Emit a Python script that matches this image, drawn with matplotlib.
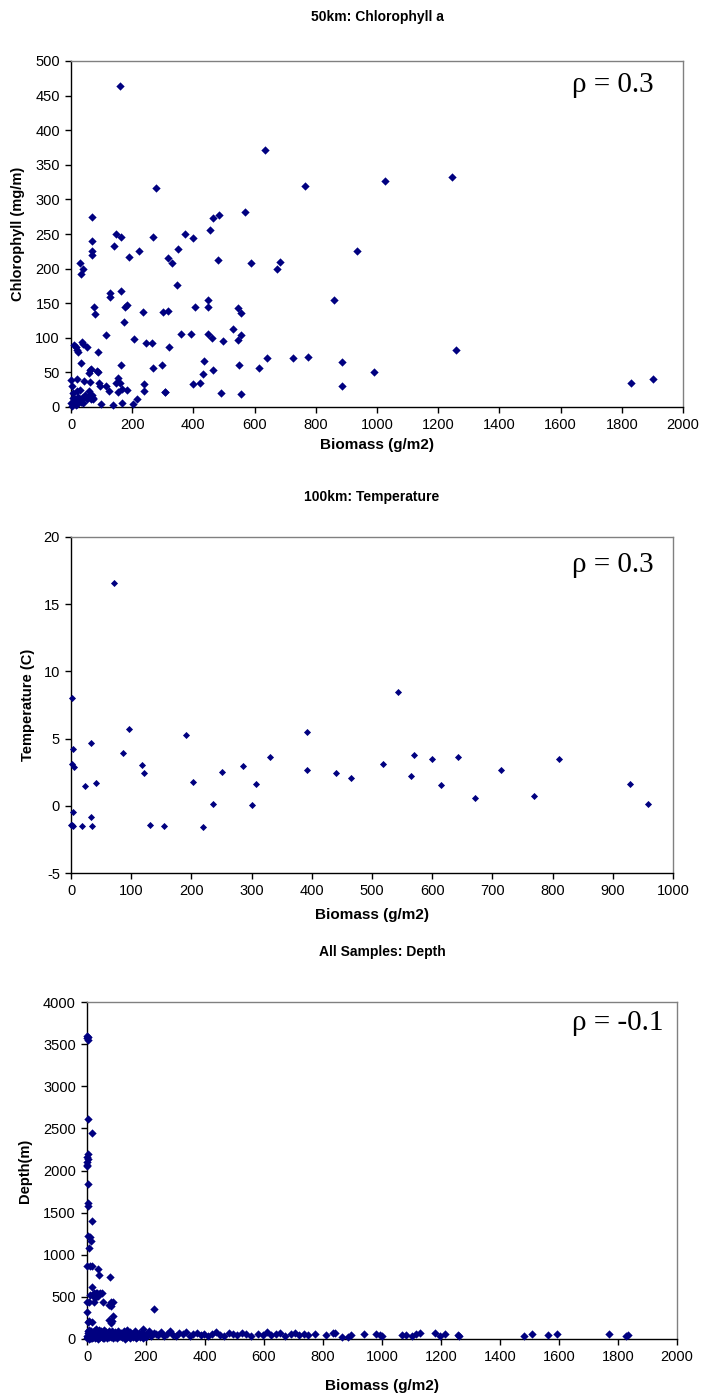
import matplotlib
matplotlib.use("Agg")
import matplotlib.pyplot as plt

plt.rcParams['font.family'] = ['Liberation Sans', 'DejaVu Sans']
plt.rcParams['axes.unicode_minus'] = False

# 50km: chlorophyll a vs biomass  (biomass, chlorophyll)
chl_pts = [(160, 464), (633, 371), (277, 317), (765, 320), (1027, 327), (70, 275), (484, 277),
           (465, 273), (570, 282), (455, 256), (146, 250), (163, 246), (374, 250), (398, 244),
           (267, 245), (70, 240), (140, 233), (70, 225), (67, 220), (221, 225), (349, 229),
           (188, 217), (479, 213), (936, 226), (318, 215), (331, 208), (587, 208), (674, 200),
           (683, 210), (28, 208), (39, 200), (33, 192), (345, 177), (127, 165), (127, 159),
           (165, 168), (76, 144), (78, 135), (177, 144), (182, 148), (174, 123), (236, 138),
           (302, 137), (317, 139), (404, 144), (449, 155), (449, 145), (545, 143), (556, 136),
           (861, 155), (115, 104), (205, 98), (246, 92), (265, 93), (358, 106), (391, 105),
           (447, 106), (462, 99), (498, 96), (530, 113), (547, 97), (557, 104), (320, 86),
           (11, 89), (15, 86), (21, 83), (23, 79), (36, 94), (38, 91), (52, 87), (88, 79),
           (32, 63), (163, 60), (268, 56), (297, 61), (434, 66), (464, 54), (550, 60), (613, 57),
           (639, 71), (726, 71), (773, 72), (884, 65), (991, 51), (884, 30), (61, 53), (66, 55),
           (84, 52), (87, 51), (0, 39), (20, 41), (42, 37), (59, 49), (63, 36), (91, 35),
           (96, 31), (115, 31), (99, 4), (125, 23), (137, 3), (147, 35), (152, 42), (160, 34),
           (155, 21), (166, 26), (168, 6), (184, 25), (203, 5), (217, 11), (237, 33), (240, 23),
           (306, 22), (308, 22), (399, 33), (421, 35), (432, 47), (489, 20), (556, 19),
           (2, 30), (5, 20), (8, 13), (0, 6), (13, 11), (18, 23), (24, 15), (29, 25), (35, 13),
           (40, 6), (46, 18), (51, 11), (57, 15), (60, 23), (64, 11), (67, 18), (73, 11),
           (10, 8), (16, 3), (27, 8), (49, 15), (71, 13), (3, 2), (20, 5), (32, 7), (42, 14),
           (1244, 332), (1258, 82), (1829, 35), (1901, 41)]

# 100km: temperature vs biomass
tmp_pts = [(71, 16.6), (1, 8.0), (97, 5.7), (191, 5.3), (392, 5.5), (34, 4.7), (3, 4.2),
           (86, 3.9), (2, 3.1), (5, 2.9), (118, 3.0), (122, 2.45), (331, 3.64), (285, 2.95),
           (251, 2.5), (392, 2.65), (441, 2.47), (465, 2.08), (519, 3.09), (203, 1.76),
           (307, 1.63), (41, 1.68), (24, 1.5), (236, 0.17), (301, 0.05), (4, -0.47), (33, -0.8),
           (0, -1.46), (2, -1.4), (4, -1.5), (18, -1.47), (35, -1.47), (131, -1.46),
           (154, -1.47), (220, -1.56), (543, 8.49), (570, 3.76), (565, 2.2), (599, 3.51),
           (615, 1.56), (643, 3.61), (671, 0.57), (714, 2.7), (769, 0.72), (811, 3.46),
           (929, 1.63), (958, 0.1)]

# all samples: depth vs biomass
dep_pts = [(1, 3600), (2, 3585), (1, 3570), (3, 3550), (2, 2610), (17, 2440), (2, 2200),
           (1, 2165), (2, 2135), (1, 2100), (0, 2070), (1, 2050), (2, 1845), (3, 1615),
           (2, 1575), (17, 1395), (4, 1225), (11, 1205), (12, 1160), (6, 1075), (0, 870),
           (11, 870), (17, 870), (37, 830), (42, 760), (78, 735), (18, 615), (11, 520),
           (0, 445), (6, 445), (24, 445), (25, 545), (33, 545), (43, 545), (28, 485), (37, 505),
           (50, 550), (22, 525), (30, 545), (42, 540), (54, 445), (80, 445), (76, 405),
           (80, 390), (87, 445), (89, 275), (85, 210), (80, 195), (76, 220), (0, 315),
           (4, 205), (17, 205), (8, 210), (227, 355), (191, 120),
           # dense band near the bottom
           (0, 40), (2, 95), (4, 20), (5, 70), (7, 110), (9, 35), (10, 85), (12, 15), (14, 60),
           (15, 100), (18, 45), (20, 75), (22, 25), (25, 90), (27, 55), (30, 120), (33, 30),
           (35, 80), (38, 65), (40, 105), (43, 40), (45, 20), (48, 95), (50, 50), (53, 75),
           (55, 10), (58, 110), (60, 60), (63, 35), (66, 85), (70, 45), (73, 100), (76, 25),
           (80, 70), (84, 90), (88, 50), (92, 30), (96, 80), (100, 60), (105, 100), (110, 40),
           (115, 75), (120, 20), (125, 90), (130, 55), (135, 110), (140, 35), (146, 80),
           (152, 65), (158, 45), (164, 95), (170, 25), (176, 70), (182, 50), (188, 85),
           (195, 40), (202, 60), (210, 100), (218, 30), (226, 75), (234, 55), (242, 45),
           (250, 80), (260, 35), (270, 65), (280, 90), (290, 50), (300, 40), (312, 70),
           (324, 55), (336, 85), (348, 35), (360, 60), (372, 75), (385, 45), (398, 65),
           (410, 30), (424, 55), (438, 80), (452, 50), (466, 40), (480, 70), (495, 60),
           (510, 45), (525, 75), (540, 55), (555, 40), (580, 65), (595, 50), (610, 80),
           (625, 45), (640, 60), (655, 70), (670, 35), (690, 55), (705, 75), (720, 45),
           (735, 60), (750, 50),
           (1, 10), (3, 25), (6, 5), (8, 30), (11, 15), (13, 40), (16, 8), (19, 20), (23, 35),
           (26, 12), (31, 28), (36, 5), (41, 18), (46, 40), (52, 22), (57, 10), (62, 30),
           (68, 15), (74, 35), (81, 20), (88, 8), (95, 25), (103, 12), (111, 30), (119, 18),
           (128, 5), (137, 22), (147, 14), (157, 28), (167, 10), (178, 20), (189, 16), (199, 24),
           # sparse tail
           (772, 56), (811, 45), (833, 75), (839, 66), (864, 28), (885, 28), (896, 45),
           (938, 56), (980, 56), (992, 48), (1000, 36), (1067, 48), (1082, 48), (1101, 36),
           (1115, 55), (1129, 75), (1180, 75), (1195, 36), (1214, 55), (1256, 48), (1262, 36),
           (1482, 36), (1507, 55), (1564, 48), (1592, 55), (1770, 55), (1826, 36), (1834, 44)]

W, H = 702, 1399
fig = plt.figure(figsize=(W / 100, H / 100), dpi=100)


def make_axes(l, t, r, b):
    return fig.add_axes([l / W, 1 - b / H, (r - l) / W, (b - t) / H])


def style(ax):
    for s in ('left', 'bottom'):
        ax.spines[s].set_color('black')
        ax.spines[s].set_linewidth(1.0)
    for s in ('top', 'right'):
        ax.spines[s].set_color('#808080')
        ax.spines[s].set_linewidth(1.0)
    ax.tick_params(direction='out', length=4, width=1, labelsize=10.5, pad=4,
                   top=False, right=False)


panels = [
    dict(box=(71, 61, 683, 407), pts=chl_pts, xlim=(0, 2000), xstep=200,
         ylim=(0, 500), ystep=50, title="50km: Chlorophyll a", ty=17, ms=18,
         ylabel="Chlorophyll (mg/m)", ylx=18, xly=445, rho="ρ = 0.3", rx=654, ry=72),
    dict(box=(71, 537, 673, 873), pts=tmp_pts, xlim=(0, 1000), xstep=100,
         ylim=(-5, 20), ystep=5, title="100km: Temperature", ty=497, ms=13,
         ylabel="Temperature (C)", ylx=28, xly=915, rho="ρ = 0.3", rx=654, ry=552),
    dict(box=(87, 1002, 677, 1339), pts=dep_pts, xlim=(0, 2000), xstep=200,
         ylim=(0, 4000), ystep=500, title="All Samples: Depth", ty=952, ms=18,
         ylabel="Depth(m)", ylx=25, xly=1386, rho="ρ = -0.1", rx=664, ry=1010),
]

for p in panels:
    l, t, r, b = p['box']
    ax = make_axes(l, t, r, b)
    xs, ys = zip(*p['pts'])
    ax.scatter(xs, ys, marker='D', s=p['ms'], color='#000080', linewidths=0,
               clip_on=False, zorder=3)
    ax.set_xlim(*p['xlim'])
    ax.set_ylim(*p['ylim'])
    ax.set_xticks(range(p['xlim'][0], p['xlim'][1] + 1, p['xstep']))
    ax.set_yticks(range(p['ylim'][0], p['ylim'][1] + 1, p['ystep']))
    style(ax)
    fig.text((l + r) / 2 / W, 1 - p['ty'] / H, p['title'], ha='center', va='center',
             fontsize=10, fontweight='bold')
    fig.text(p['ylx'] / W, 1 - (t + b) / 2 / H, p['ylabel'], ha='center', va='center',
             rotation=90, fontsize=10.5, fontweight='bold')
    fig.text((l + r) / 2 / W, 1 - p['xly'] / H, "Biomass (g/m2)", ha='center', va='center',
             fontsize=11, fontweight='bold')
    fig.text(p['rx'] / W, 1 - p['ry'] / H, p['rho'], ha='right', va='top',
             fontsize=21, family=['Liberation Serif', 'DejaVu Serif'])

fig.savefig("out.png", dpi=100)
